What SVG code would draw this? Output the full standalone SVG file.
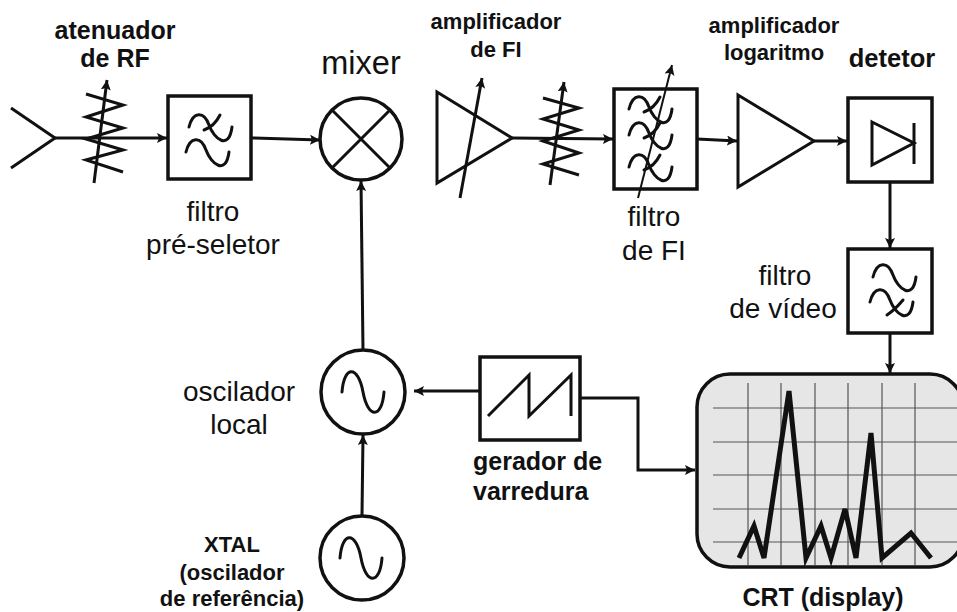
<svg xmlns="http://www.w3.org/2000/svg" width="957" height="612" viewBox="0 0 957 612">
<style>
text{font-family:"Liberation Sans",Arial,sans-serif;fill:#111;text-anchor:middle}
.b{font-weight:bold}
.s{fill:none;stroke:#111;stroke-width:3;stroke-linejoin:miter}
.w{fill:#fff;stroke:#111;stroke-width:3.5}
.c{fill:none;stroke:#111;stroke-width:3;stroke-linecap:round}
.l{fill:none;stroke:#111;stroke-width:3}
.g{stroke:#555;stroke-width:1.2;fill:none}
</style>
<defs>
<marker id="a" markerUnits="userSpaceOnUse" markerWidth="11" markerHeight="12" refX="10" refY="5" orient="auto"><path d="M0,0L10,5L0,10L2,5Z" fill="#111"/></marker>
<path id="osc" class="c" d="M-21,0C-19,-27 -5,-27 0,0C5,27 19,27 21,0"/>
<path id="fs" class="c" d="M-21,0C-17,-16 -6,-16 -1,-2C4,12 19,24 22,0"/>
<path id="lp" class="c" d="M-21,0C-17,-16 -6,-16 -1,-2C4,12 19,24 22,0M10,-12C6,-4 0,1 -6,3"/>
</defs>
<g id="connectors">
<path class="l" marker-end="url(#a)" d="M55,138H167"/>
<path class="l" marker-end="url(#a)" d="M252,138L320,140"/>
<path class="l" marker-end="url(#a)" d="M363,350L361,181"/>
<path class="l" marker-end="url(#a)" d="M362,516L363,435"/>
<path class="l" marker-end="url(#a)" d="M480,391H414"/>
<path class="l" marker-end="url(#a)" d="M512,138L613,139"/>
<path class="l" marker-end="url(#a)" d="M697,139L737,141"/>
<path class="l" marker-end="url(#a)" d="M814,141H847"/>
<path class="l" marker-end="url(#a)" d="M890,182V248"/>
<path class="l" marker-end="url(#a)" d="M890,333V373"/>
<path class="l" marker-end="url(#a)" d="M581,398H638V470H695"/>
</g>
<g id="antena"><path class="s" d="M11,108L55,138L11,168"/></g>
<g id="atenuador">
<path class="s" d="M86,94L123,105L86,117L123,128L86,139L123,150L86,160L123,172"/>
<path class="l" marker-end="url(#a)" d="M94,183L107,80"/>
<text class="b" x="115" y="39" font-size="25">atenuador</text>
<text class="b" x="115" y="67" font-size="25">de RF</text>
</g>
<g id="filtro-preseletor">
<rect class="w" x="168" y="96" width="83" height="83"/>
<use href="#lp" x="210" y="127"/>
<use href="#fs" x="207" y="152"/>
<text x="213" y="221" font-size="28">filtro</text>
<text x="213" y="254" font-size="28">pré-seletor</text>
</g>
<g id="mixer">
<circle class="w" cx="361" cy="139" r="41"/>
<path class="l" d="M332,110L390,168M390,110L332,168"/>
<text x="361" y="74" font-size="32.5">mixer</text>
</g>
<g id="amplificador-fi">
<path class="s" d="M437,92L512,138L437,183Z"/>
<path class="l" marker-end="url(#a)" d="M460,198L482,78"/>
<text class="b" x="496" y="29" font-size="22">amplificador</text>
<text class="b" x="496" y="57" font-size="22">de FI</text>
</g>
<g id="atenuador-fi">
<path class="s" d="M543,98L579,108L543,119L579,130L543,141L579,153L543,164L579,175"/>
<path class="l" marker-end="url(#a)" d="M550,185L564,82"/>
</g>
<g id="filtro-fi">
<rect class="w" x="614" y="89" width="83" height="100"/>
<use href="#lp" x="650" y="109"/>
<use href="#lp" x="650" y="135"/>
<use href="#lp" x="650" y="167"/>
<path class="l" style="stroke-width:2" marker-end="url(#a)" d="M638,198L672,65"/>
<text x="654" y="226" font-size="28">filtro</text>
<text x="654" y="260" font-size="28">de FI</text>
</g>
<g id="amplificador-log">
<path class="s" d="M738,95L814,141L738,187Z"/>
<text class="b" x="774" y="33" font-size="22">amplificador</text>
<text class="b" x="774" y="60" font-size="22">logaritmo</text>
</g>
<g id="detetor">
<rect class="w" x="848" y="98" width="84" height="84"/>
<path class="s" d="M872,122L914,143L872,165Z"/>
<path class="l" d="M914,123V164"/>
<text class="b" x="892" y="67" font-size="25.5">detetor</text>
</g>
<g id="filtro-video">
<rect class="w" x="848" y="249" width="84" height="84"/>
<use href="#fs" x="894" y="277"/>
<use href="#fs" x="891" y="302"/>
<path class="c" d="M903,300C898,306 893,311 887,315"/>
<text x="785" y="285" font-size="28">filtro</text>
<text x="783" y="318" font-size="28">de vídeo</text>
</g>
<g id="crt">
<rect x="697" y="374" width="266" height="193" rx="33" fill="#e6e6e6" stroke="#111" stroke-width="3.5"/>
<path class="g" d="M748,383V565M781,383V565M815,383V565M848,383V565M882,383V565M915,383V565M713,408H957M713,442H957M713,475H957M713,509H957M713,542H957"/>
<path fill="none" stroke="#111" stroke-width="5" stroke-linejoin="miter" d="M739,558L754,526L764,558L789,391L806,558L821,526L831,558L845,509L856,558L871,433L882,558L911,533L931,558"/>
<text class="b" x="823" y="606" font-size="25">CRT (display)</text>
</g>
<g id="oscilador-local">
<circle class="w" cx="363" cy="392" r="42"/>
<use href="#osc" x="363" y="392"/>
<text x="239" y="401" font-size="28">oscilador</text>
<text x="239" y="434" font-size="28">local</text>
</g>
<g id="xtal">
<circle class="w" cx="362" cy="558" r="42"/>
<use href="#osc" x="361" y="558"/>
<text class="b" x="232" y="552" font-size="22">XTAL</text>
<text class="b" x="232" y="580" font-size="22">(oscilador</text>
<text class="b" x="232" y="606" font-size="22">de referência)</text>
</g>
<g id="gerador">
<rect class="w" x="480" y="357" width="100" height="83"/>
<path class="s" d="M488,416L529,375V416L571,375V416"/>
<text class="b" x="473" y="470" font-size="25" style="text-anchor:start">gerador de</text>
<text class="b" x="473" y="500" font-size="25" style="text-anchor:start">varredura</text>
</g>
</svg>
